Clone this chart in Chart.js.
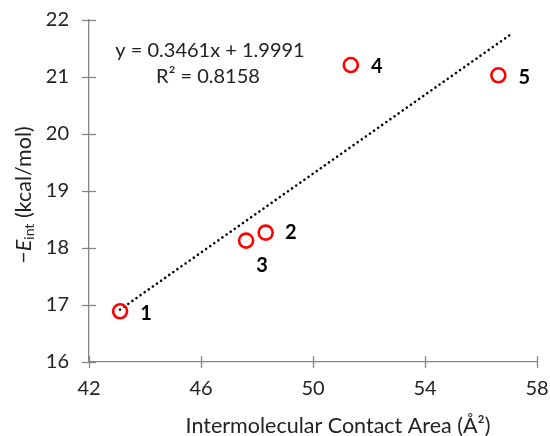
<!DOCTYPE html>
<html><head><meta charset="utf-8">
<script src="https://cdn.jsdelivr.net/npm/chart.js@4.4.0/dist/chart.umd.min.js"></script>
<style>html,body{margin:0;padding:0;background:#fff}#wrap{width:550px;height:436px}</style>
</head><body><div id="wrap"><canvas id="c" width="550" height="436"></canvas></div>
<script>
const pointLabels = ['1', '2', '3', '4', '5'];
const contactArea = [43.11, 48.31, 47.61, 51.35, 56.62];
const interactionEnergy = [16.89, 18.27, 18.13, 21.21, 21.03];
const trendX = [43.11, 57.07];
const trendY = [16.92, 21.75];
const xTicks = [42, 46, 50, 54, 58];
const yTicks = [16, 17, 18, 19, 20, 21, 22];
const equationText = 'y = 0.3461x + 1.9991';
const r2Text = 'R\u00b2 = 0.8158';
const xTitle = 'Intermolecular Contact Area (\u00c5\u00b2)';

const FONT = 'Lato, "Open Sans", sans-serif';
const labelOffsets = [[26,2],[25,0],[16,25],[26,2],[26,2]];

const mc = document.createElement('canvas').getContext('2d');
function fitSize(text, target, style) {
  mc.font = (style || '') + ' 100px ' + FONT;
  return Math.round(100 * target / mc.measureText(text).width * 2) / 2;
}
const tickSize = 20;
const labelSize = 20;
const eqSize = fitSize(equationText, 188);
const xtSize = fitSize(xTitle, 304);

const overlay = {
  id: 'overlay',
  afterDatasetsDraw(chart) {
    const ctx = chart.ctx, xs = chart.scales.x, ys = chart.scales.y;
    ctx.save();
    ctx.strokeStyle = '#868686'; ctx.lineWidth = 1.3;
    const ax = xs.getPixelForValue(xTicks[0]), ay = ys.getPixelForValue(yTicks[0]);
    yTicks.forEach(v => { const p = Math.round(ys.getPixelForValue(v)) + 0.5;
      ctx.beginPath(); ctx.moveTo(ax - 7, p); ctx.lineTo(ax + 7, p); ctx.stroke(); });
    xTicks.forEach(v => { const p = Math.round(xs.getPixelForValue(v)) + 0.5;
      ctx.beginPath(); ctx.moveTo(p, ay - 6); ctx.lineTo(p, ay + 6); ctx.stroke(); });
    ctx.fillStyle = '#000'; ctx.font = 'bold ' + labelSize + 'px ' + FONT;
    ctx.textAlign = 'center'; ctx.textBaseline = 'middle';
    pointLabels.forEach((t, i) => {
      const px = xs.getPixelForValue(contactArea[i]) + labelOffsets[i][0];
      const py = ys.getPixelForValue(interactionEnergy[i]) + labelOffsets[i][1];
      ctx.fillText(t, px, py);
    });
    ctx.font = eqSize + 'px ' + FONT; ctx.fillStyle = '#222';
    ctx.fillText(equationText, 210, 51);
    ctx.fillText(r2Text, 208, 77);
    ctx.font = xtSize + 'px ' + FONT;
    ctx.fillText(xTitle, 338, 426);
    ctx.translate(24, 195); ctx.rotate(-Math.PI / 2);
    const parts = [
      {t: '\u2212', f: xtSize + 'px ' + FONT, dy: 0},
      {t: 'E', f: 'italic ' + xtSize + 'px ' + FONT, dy: 0},
      {t: 'int', f: Math.round(xtSize * 0.65) + 'px ' + FONT, dy: 5},
      {t: ' (kcal/mol)', f: xtSize + 'px ' + FONT, dy: 0}
    ];
    let total = 0;
    parts.forEach(p => { ctx.font = p.f; p.w = ctx.measureText(p.t).width; total += p.w; });
    let x = -total / 2;
    ctx.textAlign = 'left';
    parts.forEach(p => { ctx.font = p.f; ctx.fillText(p.t, x, p.dy); x += p.w; });
    ctx.restore();
  }
};

function zeroPad(s) { s.paddingTop = 0; s.paddingBottom = 0; s.paddingLeft = 0; s.paddingRight = 0; }

new Chart(document.getElementById('c'), {
  type: 'scatter',
  data: {
    datasets: [
      {
        type: 'line',
        data: trendX.map((x, i) => ({x, y: trendY[i]})),
        borderColor: '#000', borderWidth: 2.6, borderDash: [0.01, 5],
        borderCapStyle: 'round', pointRadius: 0, fill: false, order: 2
      },
      {
        data: contactArea.map((x, i) => ({x, y: interactionEnergy[i]})),
        pointRadius: 7, pointBorderWidth: 2.6, pointBorderColor: '#ff0000',
        pointBackgroundColor: 'rgba(255,255,255,0)', order: 1
      }
    ]
  },
  options: {
    responsive: false, animation: false, devicePixelRatio: 1,
    layout: {padding: {left: 0, right: 13, top: 20, bottom: 0}},
    plugins: {legend: {display: false}, tooltip: {enabled: false}},
    scales: {
      x: {
        type: 'linear', min: 42, max: 58,
        afterBuildTicks: s => { s.ticks = xTicks.map(v => ({value: v})); },
        afterFit: s => { s.height = 74; zeroPad(s); },
        grid: {display: true, drawOnChartArea: false, drawTicks: false},
        border: {display: true, color: '#868686', width: 1.3},
        ticks: {padding: 15, color: '#222', font: {family: FONT, size: tickSize}}
      },
      y: {
        min: 16, max: 22,
        afterBuildTicks: s => { s.ticks = yTicks.map(v => ({value: v})); },
        afterFit: s => { s.width = 89; zeroPad(s); },
        grid: {display: true, drawOnChartArea: false, drawTicks: false},
        border: {display: true, color: '#868686', width: 1.3},
        ticks: {padding: 20, color: '#222', font: {family: FONT, size: tickSize}}
      }
    }
  },
  plugins: [overlay]
});
</script></body></html>
